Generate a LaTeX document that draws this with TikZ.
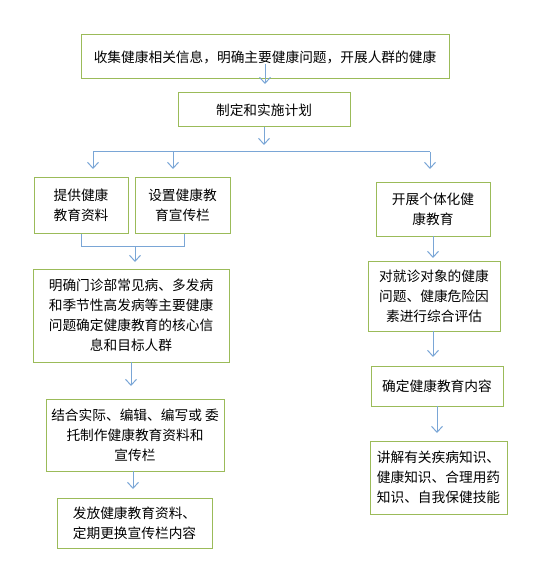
\documentclass[tikz,border=0pt]{standalone}
\usepackage{fontspec}
\setmainfont{Noto Sans CJK SC}
\usetikzlibrary{arrows.meta}
\definecolor{boxgreen}{HTML}{9BBB59}
\definecolor{arrowblue}{HTML}{7AA6D6}
\tikzset{
  flowbox/.style={draw=boxgreen, line width=1pt, inner sep=0pt, align=center,
    font=\fontsize{13.7pt}{20pt}\selectfont, text=black},
  flowline/.style={draw=arrowblue, line width=1pt},
  flowarrow/.style={flowline, -{Straight Barb[length=6pt,width=11pt,line width=1pt]}}
}
\begin{document}
\begin{tikzpicture}[x=1pt,y=-1pt]
\useasboundingbox (0,0) rectangle (554,580);
\node[flowbox, minimum width=368pt, minimum height=44pt] (top) at (265,57) {收集健康相关信息，明确主要健康问题，开展人群的健康};
\node[flowbox, minimum width=172pt, minimum height=34pt] (plan) at (264,110) {制定和实施计划};
\node[flowbox, minimum width=94pt, minimum height=56pt] (b1) at (81,205) {提供健康\\教育资料};
\node[flowbox, minimum width=95pt, minimum height=56pt] (b2) at (182.5,205) {设置健康教\\育宣传栏};
\node[flowbox, minimum width=196pt, minimum height=93pt] (c) at (131,315.5) {明确门诊部常见病、多发病\\和季节性高发病等主要健康\\问题确定健康教育的核心信\\息和目标人群};
\node[flowbox, minimum width=178pt, minimum height=72pt] (d) at (135,435) {结合实际、编辑、编写或 委\\托制作健康教育资料和\\宣传栏};
\node[flowbox, minimum width=155pt, minimum height=50pt] (e) at (134.5,523) {发放健康教育资料、\\定期更换宣传栏内容};
\node[flowbox, minimum width=114pt, minimum height=54pt] (r1) at (433,209) {开展个体化健\\康教育};
\node[flowbox, minimum width=132pt, minimum height=70pt] (r2) at (434,296) {对就诊对象的健康\\问题、健康危险因\\素进行综合评估};
\node[flowbox, minimum width=132pt, minimum height=40pt] (r3) at (437,386) {确定健康教育内容};
\node[flowbox, minimum width=137pt, minimum height=73pt] (r4) at (438.5,477.5) {讲解有关疾病知识、\\健康知识、合理用药\\知识、自我保健技能};

\coordinate (t0) at (265,64);
\coordinate (t1) at (265,84);
\draw[flowarrow] (t0) -- (t1);
\coordinate (p1) at (264,145);
\draw[flowarrow] (plan.south -| p1) -- (p1);
\coordinate (sl) at (93,152);
\coordinate (sm) at (173,152);
\coordinate (sr) at (430,152);
\draw[flowline] (sl) -- (sr);
\coordinate (al) at (93,169);
\coordinate (am) at (173,169);
\coordinate (ar) at (430,169);
\draw[flowarrow] (sl) -- (al);
\draw[flowarrow] (sm) -- (am);
\draw[flowarrow] (sr) -- (ar);
\coordinate (bl) at (81,246);
\coordinate (br) at (184,246);
\draw[flowline] (b1.south -| bl) -- (bl) -- (br) -- (b2.south -| br);
\coordinate (bm) at (135,246);
\coordinate (bt) at (135,262);
\draw[flowarrow] (bm) -- (bt);
\coordinate (c0) at (131,362);
\coordinate (c1) at (131,386);
\draw[flowarrow] (c0) -- (c1);
\coordinate (d0) at (133,471);
\coordinate (d1) at (133,489);
\draw[flowarrow] (d0) -- (d1);
\coordinate (r10) at (433,236);
\coordinate (r11) at (433,258);
\draw[flowarrow] (r10) -- (r11);
\coordinate (r20) at (433,331);
\coordinate (r21) at (433,357);
\draw[flowarrow] (r20) -- (r21);
\coordinate (r30) at (437,406);
\coordinate (r31) at (437,433);
\draw[flowarrow] (r30) -- (r31);
\end{tikzpicture}
\end{document}
